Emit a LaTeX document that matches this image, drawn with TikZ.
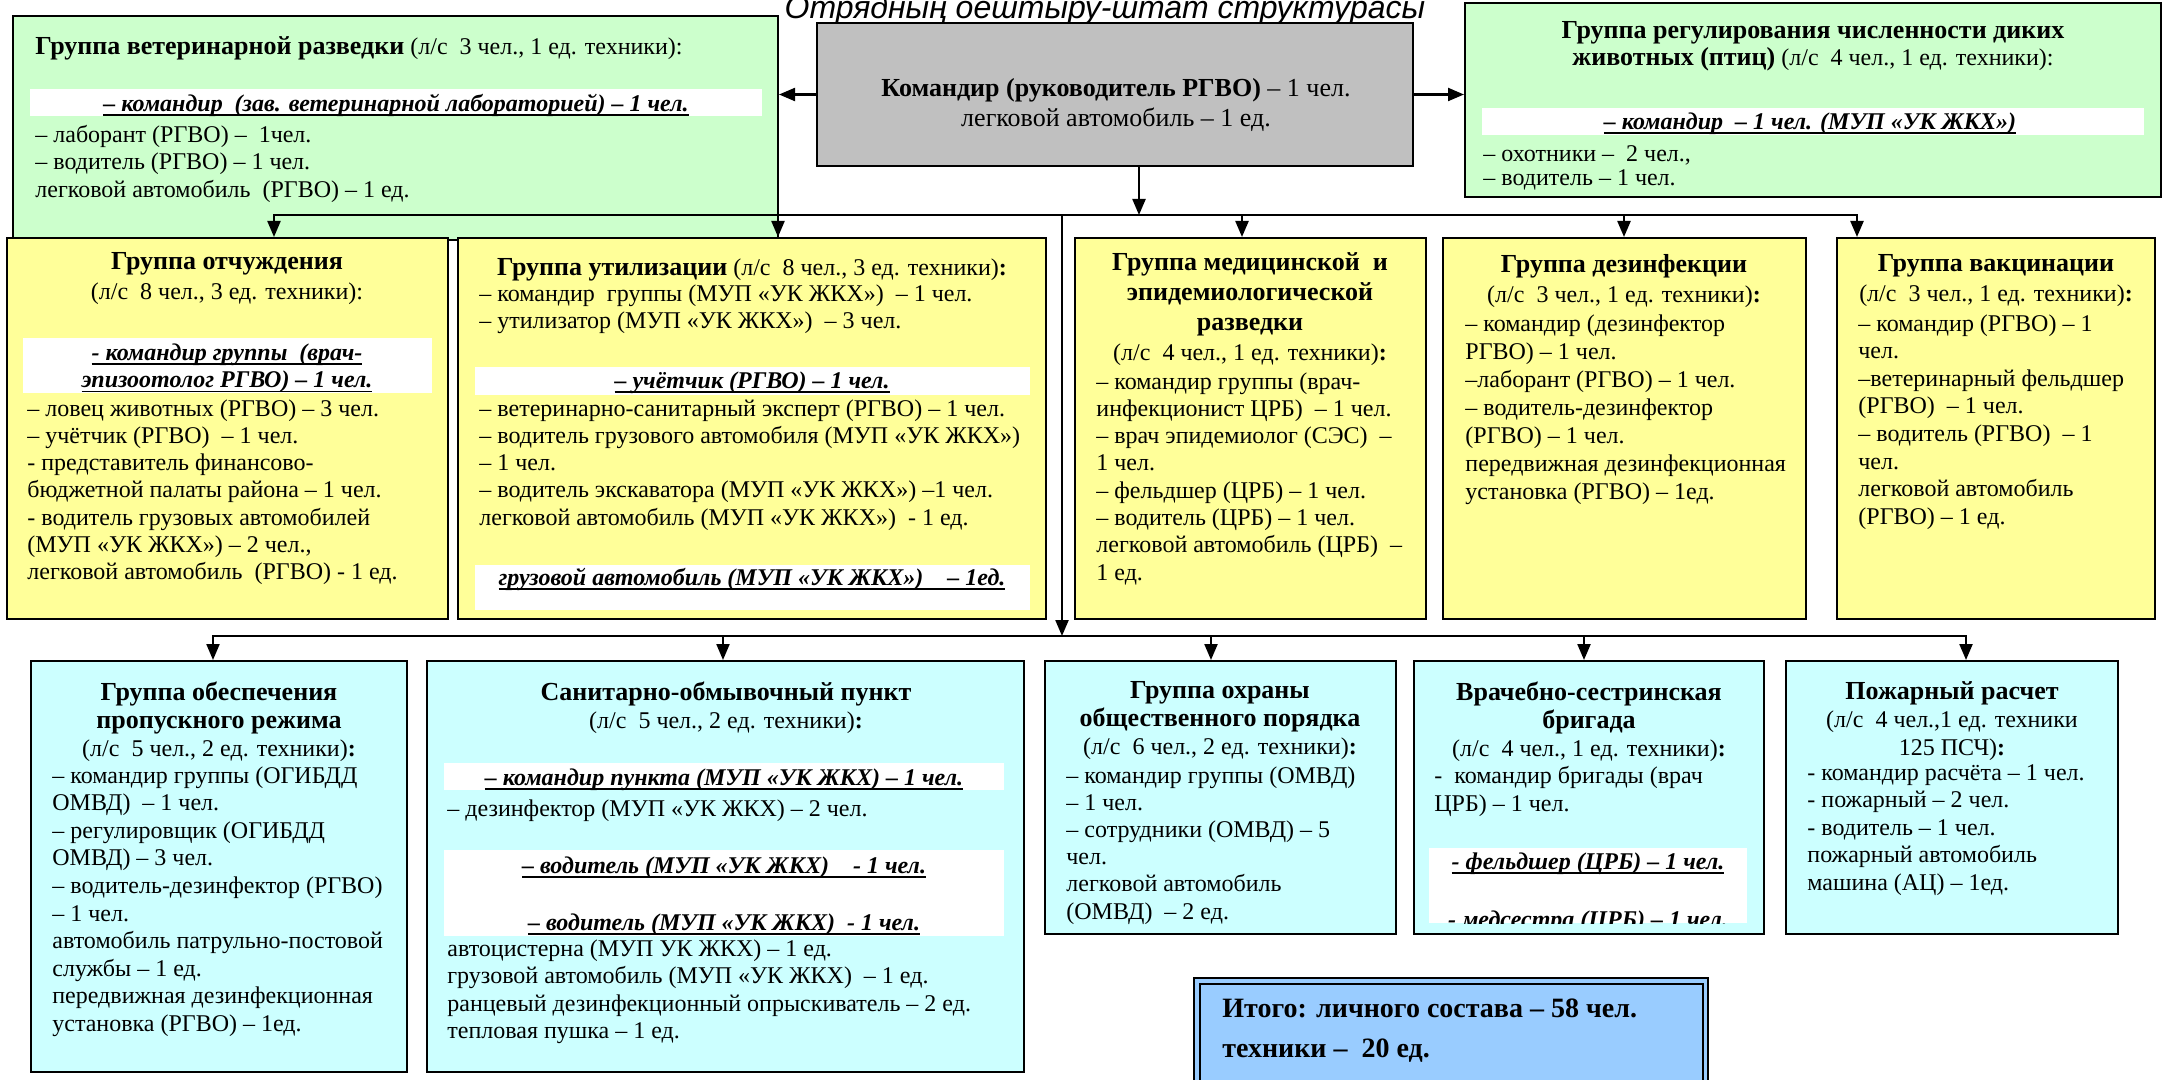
\documentclass[tikz,border=0pt]{standalone}
\usepackage{fontspec}
\setmainfont{Liberation Serif}
\newfontfamily\headfont{Liberation Sans}
\usetikzlibrary{arrows.meta,fit,positioning}
\definecolor{cgreen}{RGB}{204,255,204}
\definecolor{cgray}{RGB}{192,192,192}
\definecolor{cyellow}{RGB}{255,255,153}
\definecolor{ccyan}{RGB}{204,255,255}
\definecolor{cblue}{RGB}{153,204,255}
\tikzstyle{orgchart}=[
    x=0.5pt, y=-0.5pt,
    group/.style={draw=black, line width=1pt, inner sep=0pt},
    band/.style={fill=white, inner sep=0pt},
    body/.style={inner sep=0pt, anchor=north west, align=left, font={\fontsize{12}{13.65}\selectfont}, execute at begin node=\strut},
    head/.style={inner sep=0pt, anchor=north, align=center, font={\fontsize{12}{15}\selectfont}, execute at begin node=\strut},
    band label/.style={inner sep=0pt, align=center, font={\fontsize{12}{13.65}\selectfont\bfseries\itshape}, execute at begin node=\strut},
    link/.style={line width=1.1pt, -{Triangle[width=6.5pt,length=8pt]}},
    bus/.style={line width=1.1pt, line cap=rect},
]
\newcommand{\grp}[6][]{\node[group,#1,fit={(#3,#4) (#5,#6)}] (#2) {};}
\newcommand{\ttl}[1]{{\fontsize{13}{15}\selectfont\bfseries #1}}
\newcommand{\ubi}[1]{\setbox0\hbox{#1}\rlap{\vrule width\wd0 height -1.4pt depth 2.2pt}\box0}

\begin{document}
\begin{tikzpicture}[orgchart]
    \useasboundingbox (0,0) rectangle (2164,1080);
    \clip (0,0) rectangle (2164,1080);
    \node[anchor=base, inner sep=0pt, font=\headfont\itshape\fontsize{16}{18}\selectfont] (heading) at (1105,19) {Отрядның оештыру-штат структурасы};

    % top row
    \grp[fill=cgreen]{vet}{13}{16}{778}{240}
    \node[body] (vet-t) at (35,35) {\ttl{Группа ветеринарной разведки} (л/с~ 3 чел., 1 ед. техники):};
    \node[band, fit={(30,89) (762,116)}] (vet-b) {};
    \node[band label] at (396,106) {\ubi{– командир~ (зав. ветеринарной лабораторией) – 1 чел.}};
    \node[body] (vet-l) at (35,125) {– лаборант (РГВО) –~ 1чел.\\– водитель (РГВО) – 1 чел.\\легковой автомобиль~ (РГВО) – 1 ед.};

    \grp[fill=cgray]{cmd}{817}{23}{1413}{166}
    \node[head, font=\fontsize{13}{15}\selectfont] (cmd-t) at (1116,78) {\textbf{Командир (руководитель РГВО)} – 1 чел.\\легковой автомобиль – 1 ед.};

    \grp[fill=cgreen]{reg}{1465}{3}{2161}{197}
    \node[head, font=\fontsize{12}{13.5}\selectfont] (reg-t) at (1813,21) {\ttl{Группа регулирования численности диких}\\\ttl{животных (птиц)} (л/с~ 4 чел., 1 ед. техники):};
    \node[band, fit={(1482,108) (2144,135)}] (reg-b) {};
    \node[band label] at (1810,124) {\ubi{– командир~ – 1 чел. (МУП «УК ЖКХ»)}};
    \node[body, font=\fontsize{12}{12}\selectfont] (reg-l) at (1483,145) {– охотники –~ 2 чел.,\\– водитель – 1 чел.};

    % middle row
    \grp[fill=cyellow]{otch}{7}{238}{448}{619}
    \node[head] (otch-t) at (227,252) {\ttl{Группа отчуждения}\\(л/с~ 8 чел., 3 ед. техники):};
    \node[band, fit={(23,338) (432,393)}] (otch-b) {};
    \node[band label] at (227,370) {\ubi{- командир группы~ (врач-}\\\ubi{эпизоотолог РГВО) – 1 чел.}};
    \node[body] (otch-l) at (27,399) {– ловец животных (РГВО) – 3 чел.\\– учётчик (РГВО)~ – 1 чел.\\- представитель финансово-\\бюджетной палаты района – 1 чел.\\- водитель грузовых автомобилей\\(МУП «УК ЖКХ») – 2 чел.,\\легковой автомобиль~ (РГВО) - 1 ед.};

    \grp[fill=cyellow]{util}{458}{238}{1046}{619}
    \node[head] (util-t) at (752,254) {\ttl{Группа утилизации} (л/с~ 8 чел., 3 ед. техники)\textbf{:}};
    \node[body] (util-l1) at (479,284) {– командир~ группы (МУП «УК ЖКХ»)~ – 1 чел.\\– утилизатор (МУП «УК ЖКХ»)~ – 3 чел.};
    \node[band, fit={(475,367) (1030,395)}] (util-b1) {};
    \node[band label] at (752,383) {\ubi{– учётчик (РГВО) – 1 чел.}};
    \node[body] (util-l2) at (479,399) {– ветеринарно-санитарный эксперт (РГВО) – 1 чел.\\– водитель грузового автомобиля (МУП «УК ЖКХ»)\\– 1 чел.\\– водитель экскаватора (МУП «УК ЖКХ») –1 чел.\\легковой автомобиль (МУП «УК ЖКХ»)~ - 1 ед.};
    \node[band, fit={(475,565) (1030,610)}] (util-b2) {};
    \node[band label] at (752,580) {\ubi{грузовой автомобиль (МУП «УК ЖКХ»)~ ~ – 1ед.}};

    \grp[fill=cyellow]{med}{1075}{238}{1426}{619}
    \node[head] (med-t) at (1250,252) {\ttl{Группа медицинской~ и}\\\ttl{эпидемиологической}\\\ttl{разведки}\\(л/с~ 4 чел., 1 ед. техники)\textbf{:}};
    \node[body] (med-l) at (1096,372) {– командир группы (врач-\\инфекционист ЦРБ)~ – 1 чел.\\– врач эпидемиолог (СЭС)~ –\\1 чел.\\– фельдшер (ЦРБ) – 1 чел.\\– водитель (ЦРБ) – 1 чел.\\легковой автомобиль (ЦРБ)~ –\\1 ед.};

    \grp[fill=cyellow]{dez}{1443}{238}{1806}{619}
    \node[head] (dez-t) at (1624,254) {\ttl{Группа дезинфекции}\\(л/с~ 3 чел., 1 ед. техники)\textbf{:}};
    \node[body, font=\fontsize{12}{14}\selectfont] (dez-l) at (1465,314) {– командир (дезинфектор\\РГВО) – 1 чел.\\–лаборант (РГВО) – 1 чел.\\– водитель-дезинфектор\\(РГВО) – 1 чел.\\передвижная дезинфекционная\\установка (РГВО) – 1ед.};

    \grp[fill=cyellow]{vak}{1837}{238}{2155}{619}
    \node[head] (vak-t) at (1996,254) {\ttl{Группа вакцинации}\\(л/с~ 3 чел., 1 ед. техники)\textbf{:}};
    \node[body, font=\fontsize{12}{13.8}\selectfont] (vak-l) at (1858,314) {– командир (РГВО) – 1\\чел.\\–ветеринарный фельдшер\\(РГВО)~ – 1 чел.\\– водитель (РГВО)~ – 1\\чел.\\легковой автомобиль\\(РГВО) – 1 ед.};

    % bottom row
    \grp[fill=ccyan]{pass}{31}{661}{407}{1072}
    \node[head, font=\fontsize{12}{14}\selectfont] (pass-t) at (219,681) {\ttl{Группа обеспечения}\\\ttl{пропускного режима}\\(л/с~ 5 чел., 2 ед. техники)\textbf{:}};
    \node[body, font=\fontsize{12}{13.8}\selectfont] (pass-l) at (52,766) {– командир группы (ОГИБДД\\ОМВД)~ – 1 чел.\\– регулировщик (ОГИБДД\\ОМВД) – 3 чел.\\– водитель-дезинфектор (РГВО)\\– 1 чел.\\автомобиль патрульно-постовой\\службы – 1 ед.\\передвижная дезинфекционная\\установка (РГВО) – 1ед.};

    \grp[fill=ccyan]{san}{427}{661}{1024}{1072}
    \node[head, font=\fontsize{12}{14}\selectfont] (san-t) at (726,681) {\ttl{Санитарно-обмывочный пункт}\\(л/с~ 5 чел., 2 ед. техники)\textbf{:}};
    \node[band, fit={(444,763) (1004,790)}] (san-b1) {};
    \node[band label] at (724,780) {\ubi{– командир пункта (МУП «УК ЖКХ) – 1 чел.}};
    \node[body] (san-l1) at (447,797) {– дезинфектор (МУП «УК ЖКХ) – 2 чел.};
    \node[band, fit={(444,850) (1004,936)}] (san-b2) {};
    \node[band label] at (724,868) {\ubi{– водитель (МУП «УК ЖКХ)~ ~ - 1 чел.}};
    \node[band label] at (724,925) {\ubi{– водитель (МУП «УК ЖКХ)~ - 1 чел.}};
    \node[body, font=\fontsize{12}{13.8}\selectfont] (san-l2) at (447,939) {автоцистерна (МУП УК ЖКХ) – 1 ед.\\грузовой автомобиль (МУП «УК ЖКХ)~ – 1 ед.\\ранцевый дезинфекционный опрыскиватель – 2 ед.\\тепловая пушка – 1 ед.};

    \grp[fill=ccyan]{guard}{1045}{661}{1396}{934}
    \node[head, font=\fontsize{12}{14}\selectfont] (guard-t) at (1220,681) {\ttl{Группа охраны}\\\ttl{общественного порядка}\\(л/с~ 6 чел., 2 ед. техники)\textbf{:}};
    \node[body, font=\fontsize{12}{13.6}\selectfont] (guard-l) at (1066,766) {– командир группы (ОМВД)\\– 1 чел.\\– сотрудники (ОМВД) – 5\\чел.\\легковой автомобиль\\(ОМВД)~ – 2 ед.};

    \grp[fill=ccyan]{brig}{1414}{661}{1764}{934}
    \node[head, font=\fontsize{12}{14}\selectfont] (brig-t) at (1589,681) {\ttl{Врачебно-сестринская}\\\ttl{бригада}\\(л/с~ 4 чел., 1 ед. техники)\textbf{:}};
    \node[body, font=\fontsize{12}{14}\selectfont] (brig-l) at (1434,766) {-~ командир бригады (врач\\ЦРБ) – 1 чел.};
    \node[band, fit={(1429,848) (1747,923)}] (brig-b) {};
    \node[band label] at (1588,864) {\ubi{- фельдшер (ЦРБ) – 1 чел.}};
    \begin{scope}
        \clip (brig-b.north west) rectangle (brig-b.south east);
        \node[band label] at (1588,922) {\ubi{- медсестра (ЦРБ) – 1 чел.}};
    \end{scope}

    \grp[fill=ccyan]{fire}{1786}{661}{2118}{934}
    \node[head, font=\fontsize{12}{14}\selectfont] (fire-t) at (1952,681) {\ttl{Пожарный расчет}\\(л/с~ 4 чел.,1 ед. техники\\125 ПСЧ)\textbf{:}};
    \node[body, font=\fontsize{12}{13.75}\selectfont] (fire-l) at (1807,764) {- командир расчёта – 1 чел.\\- пожарный – 2 чел.\\- водитель – 1 чел.\\пожарный автомобиль\\машина (АЦ) – 1ед.};

    \grp[fill=cblue, line width=1.4pt]{total}{1194}{978}{1708}{1095}
    \grp{total-in}{1200}{984}{1703}{1090}
    \node[body, font=\fontsize{14}{20}\selectfont\bfseries] (total-t) at (1222,998) {Итого: личного состава – 58 чел.\\техники –~ 20 ед.};

    % connectors
    \draw[link] (cmd.west) -- (vet.east |- cmd.west);
    \draw[link] (cmd.east) -- (reg.west |- cmd.east);
    \coordinate (hub) at (1139,215);
    \draw[link] (cmd.south -| hub) -- (hub);
    \coordinate (top-l) at (274,215);
    \coordinate (top-r) at (1857,215);
    \draw[bus] (top-l) -- (top-r);
    \foreach \n/\x in {otch/274, util/778, med/1242, dez/1624, vak/1857}
    {
        \coordinate (t\n) at (\x,215);
        \draw[link] (t\n) -- (t\n |- \n.north);
    }
    \coordinate (trunk-top) at (1062,215);
    \coordinate (trunk-bot) at (1062,636);
    \draw[link] (trunk-top) -- (trunk-bot);
    \coordinate (bot-l) at (213,636);
    \coordinate (bot-r) at (1966,636);
    \draw[bus] (bot-l) -- (bot-r);
    \foreach \n/\x in {pass/213, san/723, guard/1211, brig/1584, fire/1966}
    {
        \coordinate (b\n) at (\x,636);
        \draw[link] (b\n) -- (b\n |- \n.north);
    }
\end{tikzpicture}
\end{document}
